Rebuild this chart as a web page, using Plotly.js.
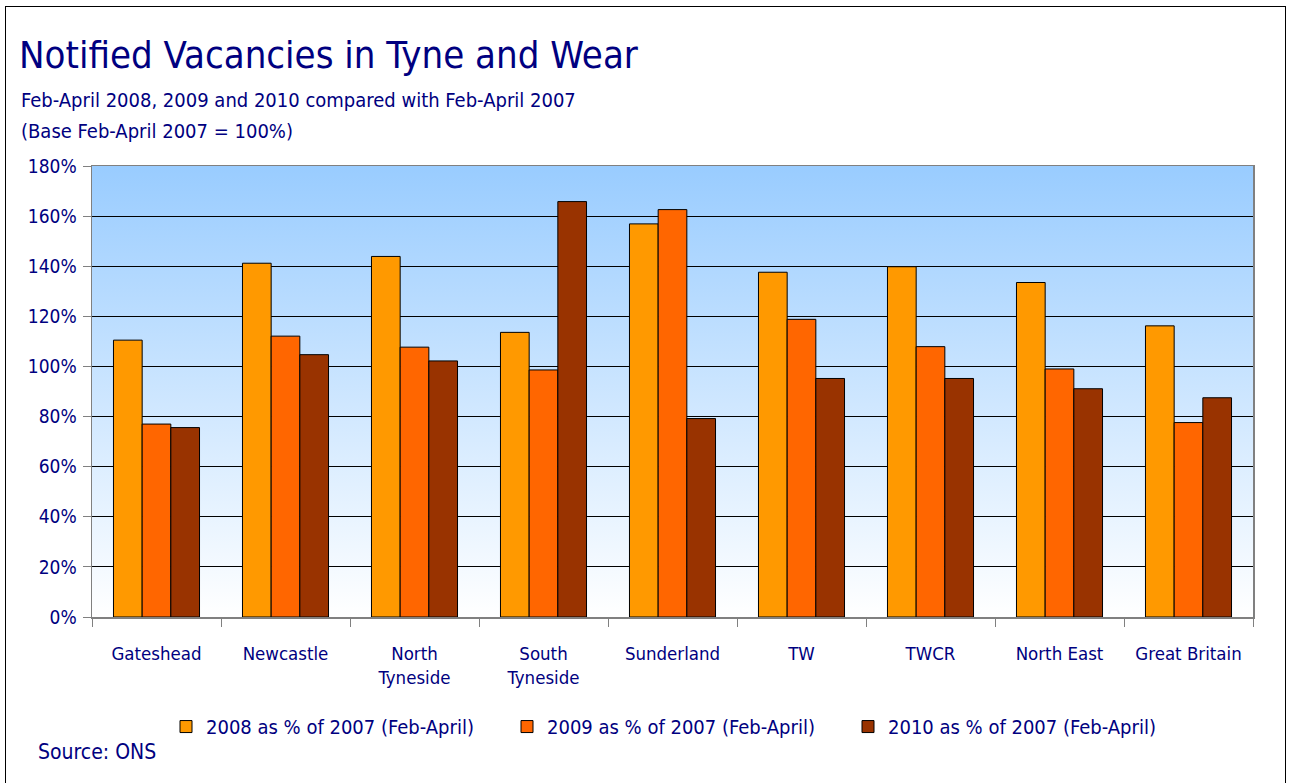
<!DOCTYPE html>
<html>
<head>
<meta charset="utf-8">
<script src="https://cdn.plot.ly/plotly-3.0.1.min.js"></script>
<style>
  html, body { margin: 0; padding: 0; background: #ffffff; }
  #wrap { position: relative; width: 1290px; height: 783px; overflow: hidden; }
  #chart { width: 1290px; height: 783px; }
  #frame { position: absolute; left: 5px; top: 6px; width: 1281px; height: 800px;
           border: 1.5px solid #000; pointer-events: none; box-sizing: border-box; }
</style>
</head>
<body>
<div id="wrap">
  <div id="chart"></div>
  <div id="frame"></div>
</div>
<script>
const categories = ["Gateshead", "Newcastle", "North<br>Tyneside", "South<br>Tyneside",
                    "Sunderland", "TW", "TWCR", "North East", "Great Britain"];
const seriesNames = ["2008 as % of 2007 (Feb-April)", "2009 as % of 2007 (Feb-April)",
                     "2010 as % of 2007 (Feb-April)"];
const values2008 = [110.5, 141.2, 143.9, 113.6, 156.9, 137.6, 139.8, 133.5, 116.2];
const values2009 = [77.0, 112.1, 107.7, 98.6, 162.6, 118.8, 107.9, 99.0, 77.6];
const values2010 = [75.6, 104.7, 102.2, 165.8, 79.2, 95.2, 95.2, 91.1, 87.5];
const yTickVals = [0, 20, 40, 60, 80, 100, 120, 140, 160, 180];
const yTickText = ["0%", "20%", "40%", "60%", "80%", "100%", "120%", "140%", "160%", "180%"];

const colors = ["#FF9900", "#FF6600", "#993300"];
const FONT = "'Liberation Sans Narrow', 'Arial Narrow', 'DejaVu Sans Condensed', sans-serif";
const NAVY = "#000080";

const allValues = [values2008, values2009, values2010];
const traces = allValues.map((vals, i) => ({
  type: "bar",
  name: seriesNames[i],
  x: categories,
  y: vals,
  marker: { color: colors[i], line: { color: "#000000", width: 1 } },
  hoverinfo: "skip"
}));

const gradSvg = '<svg xmlns="http://www.w3.org/2000/svg" width="100" height="100" preserveAspectRatio="none">' +
  '<defs><linearGradient id="g" x1="0" y1="0" x2="0" y2="1">' +
  '<stop offset="0" stop-color="#99CCFF"/><stop offset="1" stop-color="#FFFFFF"/>' +
  '</linearGradient></defs><rect width="100" height="100" fill="url(#g)"/></svg>';
const gradUrl = "data:image/svg+xml;charset=utf-8," + encodeURIComponent(gradSvg);

const layout = {
  width: 1290,
  height: 783,
  margin: { l: 92, r: 37, t: 166, b: 166, pad: 0 },
  paper_bgcolor: "#ffffff",
  plot_bgcolor: "rgba(0,0,0,0)",
  font: { family: FONT, color: NAVY, size: 20 },
  showlegend: true,
  bargap: 0.333,
  bargroupgap: 0,
  barmode: "group",
  title: {
    text: "Notified Vacancies in Tyne and Wear",
    font: { family: FONT, size: 38, color: NAVY },
    xref: "container", yref: "container",
    x: 19 / 1290, xanchor: "left",
    y: 1 - 55 / 783, yanchor: "middle"
  },
  xaxis: {
    type: "category",
    showgrid: false,
    showline: true, linecolor: "#808080", linewidth: 1.5,
    mirror: true,
    ticks: "outside", ticklen: 8, tickcolor: "#808080", tickwidth: 1,
    tickson: "boundaries",
    tickfont: { family: FONT, size: 18.5, color: NAVY },
    ticklabelstandoff: 19,
    fixedrange: true
  },
  yaxis: {
    range: [0, 180],
    tickvals: yTickVals,
    ticktext: yTickText,
    showgrid: true, gridcolor: "#000000", gridwidth: 1,
    zeroline: false,
    showline: true, linecolor: "#808080", linewidth: 1.5,
    mirror: true,
    ticks: "outside", ticklen: 8, tickcolor: "#808080", tickwidth: 1,
    tickfont: { family: FONT, size: 19, color: NAVY },
    ticklabelstandoff: 2,
    fixedrange: true
  },
  legend: {
    orientation: "h",
    x: (166 - 92) / 1161, xanchor: "left",
    y: (617.3 - 727) / 451.6, yanchor: "middle",
    entrywidth: 296, entrywidthmode: "pixels",
    bgcolor: "rgba(0,0,0,0)",
    font: { family: FONT, size: 20, color: NAVY },
    traceorder: "normal"
  },
  images: [{
    source: gradUrl, xref: "paper", yref: "paper",
    x: 0, y: 1, sizex: 1, sizey: 1, sizing: "stretch",
    xanchor: "left", yanchor: "top", layer: "below"
  }],
  annotations: [
    { text: "Feb-April 2008, 2009 and 2010 compared with Feb-April 2007",
      xref: "paper", yref: "paper", x: (19 - 92) / 1161, y: (617.3 - 100) / 451.6,
      xanchor: "left", yanchor: "middle", showarrow: false,
      font: { family: FONT, size: 20, color: NAVY } },
    { text: "(Base Feb-April 2007 = 100%)",
      xref: "paper", yref: "paper", x: (19 - 92) / 1161, y: (617.3 - 131) / 451.6,
      xanchor: "left", yanchor: "middle", showarrow: false,
      font: { family: FONT, size: 20, color: NAVY } },
    { text: "Source: ONS",
      xref: "paper", yref: "paper", x: (36 - 92) / 1161, y: (617.3 - 752) / 451.6,
      xanchor: "left", yanchor: "middle", showarrow: false,
      font: { family: FONT, size: 21, color: NAVY } }
  ]
};

Plotly.newPlot("chart", traces, layout, { displayModeBar: false, staticPlot: true });
</script>
</body>
</html>
